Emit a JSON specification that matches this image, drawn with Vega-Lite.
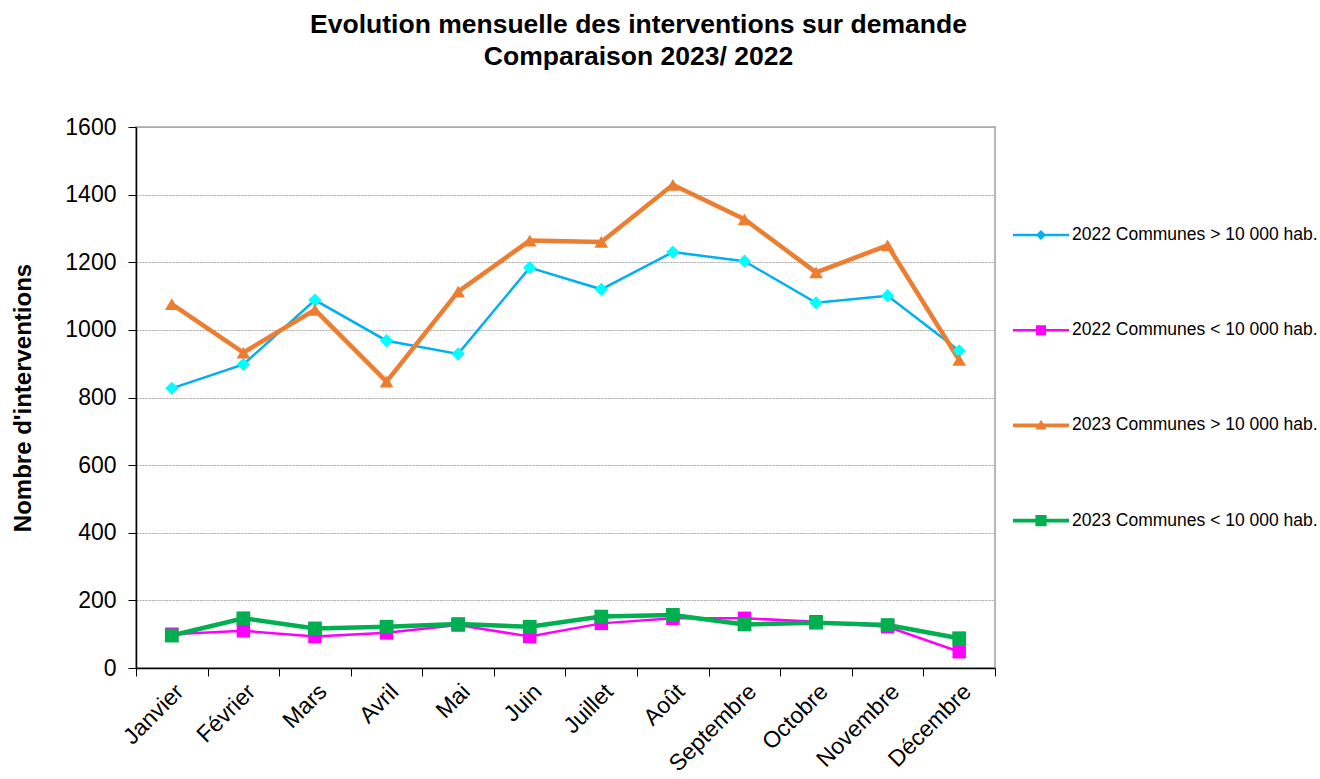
{
  "$schema": "https://vega.github.io/schema/vega-lite/v6.json",
  "autosize": {"type": "none"},
  "width": 859,
  "height": 541,
  "padding": {"left": 136, "top": 127, "right": 325, "bottom": 111},
  "background": "white",
  "config": {
    "font": "Liberation Sans",
    "view": {"stroke": "#b8b8b8", "strokeWidth": 2},
    "legend": {"padding": 0}
  },
  "title": {
    "text": ["Evolution mensuelle des interventions sur demande", "Comparaison 2023/ 2022"],
    "font": "Liberation Sans",
    "fontSize": 26.5,
    "fontWeight": "bold",
    "color": "black",
    "lineHeight": 32,
    "anchor": "middle",
    "frame": "group",
    "dx": 73,
    "offset": 46
  },
  "data": {
    "values": [
      {"mois": "Janvier", "serie": "2022 Communes > 10 000 hab.", "valeur": 827},
      {"mois": "Février", "serie": "2022 Communes > 10 000 hab.", "valeur": 898},
      {"mois": "Mars", "serie": "2022 Communes > 10 000 hab.", "valeur": 1088},
      {"mois": "Avril", "serie": "2022 Communes > 10 000 hab.", "valeur": 968},
      {"mois": "Mai", "serie": "2022 Communes > 10 000 hab.", "valeur": 929},
      {"mois": "Juin", "serie": "2022 Communes > 10 000 hab.", "valeur": 1184},
      {"mois": "Juillet", "serie": "2022 Communes > 10 000 hab.", "valeur": 1120},
      {"mois": "Août", "serie": "2022 Communes > 10 000 hab.", "valeur": 1230},
      {"mois": "Septembre", "serie": "2022 Communes > 10 000 hab.", "valeur": 1203},
      {"mois": "Octobre", "serie": "2022 Communes > 10 000 hab.", "valeur": 1080},
      {"mois": "Novembre", "serie": "2022 Communes > 10 000 hab.", "valeur": 1101},
      {"mois": "Décembre", "serie": "2022 Communes > 10 000 hab.", "valeur": 938},
      {"mois": "Janvier", "serie": "2022 Communes < 10 000 hab.", "valeur": 100},
      {"mois": "Février", "serie": "2022 Communes < 10 000 hab.", "valeur": 110},
      {"mois": "Mars", "serie": "2022 Communes < 10 000 hab.", "valeur": 93},
      {"mois": "Avril", "serie": "2022 Communes < 10 000 hab.", "valeur": 104},
      {"mois": "Mai", "serie": "2022 Communes < 10 000 hab.", "valeur": 127},
      {"mois": "Juin", "serie": "2022 Communes < 10 000 hab.", "valeur": 93},
      {"mois": "Juillet", "serie": "2022 Communes < 10 000 hab.", "valeur": 132},
      {"mois": "Août", "serie": "2022 Communes < 10 000 hab.", "valeur": 147},
      {"mois": "Septembre", "serie": "2022 Communes < 10 000 hab.", "valeur": 147},
      {"mois": "Octobre", "serie": "2022 Communes < 10 000 hab.", "valeur": 137},
      {"mois": "Novembre", "serie": "2022 Communes < 10 000 hab.", "valeur": 122},
      {"mois": "Décembre", "serie": "2022 Communes < 10 000 hab.", "valeur": 48},
      {"mois": "Janvier", "serie": "2023 Communes > 10 000 hab.", "valeur": 1076},
      {"mois": "Février", "serie": "2023 Communes > 10 000 hab.", "valeur": 933},
      {"mois": "Mars", "serie": "2023 Communes > 10 000 hab.", "valeur": 1059},
      {"mois": "Avril", "serie": "2023 Communes > 10 000 hab.", "valeur": 847},
      {"mois": "Mai", "serie": "2023 Communes > 10 000 hab.", "valeur": 1113},
      {"mois": "Juin", "serie": "2023 Communes > 10 000 hab.", "valeur": 1264},
      {"mois": "Juillet", "serie": "2023 Communes > 10 000 hab.", "valeur": 1260},
      {"mois": "Août", "serie": "2023 Communes > 10 000 hab.", "valeur": 1429},
      {"mois": "Septembre", "serie": "2023 Communes > 10 000 hab.", "valeur": 1327},
      {"mois": "Octobre", "serie": "2023 Communes > 10 000 hab.", "valeur": 1170},
      {"mois": "Novembre", "serie": "2023 Communes > 10 000 hab.", "valeur": 1250},
      {"mois": "Décembre", "serie": "2023 Communes > 10 000 hab.", "valeur": 911},
      {"mois": "Janvier", "serie": "2023 Communes < 10 000 hab.", "valeur": 96},
      {"mois": "Février", "serie": "2023 Communes < 10 000 hab.", "valeur": 147},
      {"mois": "Mars", "serie": "2023 Communes < 10 000 hab.", "valeur": 117},
      {"mois": "Avril", "serie": "2023 Communes < 10 000 hab.", "valeur": 122},
      {"mois": "Mai", "serie": "2023 Communes < 10 000 hab.", "valeur": 130},
      {"mois": "Juin", "serie": "2023 Communes < 10 000 hab.", "valeur": 122},
      {"mois": "Juillet", "serie": "2023 Communes < 10 000 hab.", "valeur": 152},
      {"mois": "Août", "serie": "2023 Communes < 10 000 hab.", "valeur": 157},
      {"mois": "Septembre", "serie": "2023 Communes < 10 000 hab.", "valeur": 129},
      {"mois": "Octobre", "serie": "2023 Communes < 10 000 hab.", "valeur": 134},
      {"mois": "Novembre", "serie": "2023 Communes < 10 000 hab.", "valeur": 127},
      {"mois": "Décembre", "serie": "2023 Communes < 10 000 hab.", "valeur": 88}
    ]
  },
  "encoding": {
    "x": {
      "field": "mois",
      "type": "nominal",
      "sort": ["Janvier", "Février", "Mars", "Avril", "Mai", "Juin", "Juillet", "Août", "Septembre", "Octobre", "Novembre", "Décembre"],
      "scale": {"paddingInner": 0, "paddingOuter": 0},
      "axis": {
        "title": null,
        "labelAngle": -45,
        "labelFontSize": 23,
        "labelColor": "black",
        "labelFont": "Liberation Sans",
        "domainColor": "black",
        "domainWidth": 1.5,
        "tickColor": "black",
        "tickSize": 8,
        "tickBand": "extent",
        "labelPadding": 4,
        "grid": false
      }
    },
    "y": {
      "field": "valeur",
      "type": "quantitative",
      "scale": {"domain": [0, 1600], "nice": false},
      "axis": {
        "title": "Nombre d'interventions",
        "titleFontSize": 24,
        "titleFont": "Liberation Sans",
        "titleFontWeight": "bold",
        "titleColor": "black",
        "titlePadding": 29,
        "values": [0, 200, 400, 600, 800, 1000, 1200, 1400, 1600],
        "format": "d",
        "labelFontSize": 23,
        "labelColor": "black",
        "labelFont": "Liberation Sans",
        "labelPadding": 12,
        "domainColor": "black",
        "domainWidth": 1.5,
        "tickColor": "black",
        "tickSize": 8,
        "gridColor": "#a8a8a8",
        "gridDash": [2, 1],
        "gridWidth": 1
      }
    }
  },
  "layer": [
    {
      "transform": [{"filter": "indexof(datum.serie, '2022') === 0"}],
      "mark": {"type": "line", "strokeWidth": 2.5},
      "encoding": {
        "color": {
          "field": "serie", "type": "nominal",
          "scale": {
            "domain": ["2022 Communes > 10 000 hab.", "2022 Communes < 10 000 hab.", "2023 Communes > 10 000 hab.", "2023 Communes < 10 000 hab."],
            "range": ["#00B0F0", "#FF00FF", "#ED7D31", "#00B050"]
          },
          "legend": null
        }
      }
    },
    {
      "transform": [{"filter": "indexof(datum.serie, '2023') === 0"}],
      "mark": {"type": "line", "strokeWidth": 4.5},
      "encoding": {
        "color": {
          "field": "serie", "type": "nominal",
          "scale": {
            "domain": ["2022 Communes > 10 000 hab.", "2022 Communes < 10 000 hab.", "2023 Communes > 10 000 hab.", "2023 Communes < 10 000 hab."],
            "range": ["#00B0F0", "#FF00FF", "#ED7D31", "#00B050"]
          },
          "legend": null
        }
      }
    },
    {
      "mark": {"type": "point", "filled": true, "opacity": 1},
      "encoding": {
        "color": {
          "field": "serie", "type": "nominal",
          "scale": {
            "domain": ["2022 Communes > 10 000 hab.", "2022 Communes < 10 000 hab.", "2023 Communes > 10 000 hab.", "2023 Communes < 10 000 hab."],
            "range": ["#00FFFF", "#FF00FF", "#ED7D31", "#00B050"]
          },
          "legend": null
        },
        "shape": {
          "field": "serie", "type": "nominal",
          "scale": {
            "domain": ["2022 Communes > 10 000 hab.", "2022 Communes < 10 000 hab.", "2023 Communes > 10 000 hab.", "2023 Communes < 10 000 hab."],
            "range": ["diamond", "square", "triangle-up", "square"]
          },
          "legend": null
        },
        "size": {
          "field": "serie", "type": "nominal",
          "scale": {
            "domain": ["2022 Communes > 10 000 hab.", "2022 Communes < 10 000 hab.", "2023 Communes > 10 000 hab.", "2023 Communes < 10 000 hab."],
            "range": [175, 190, 340, 260]
          },
          "legend": null
        }
      }
    },
    {
      "mark": {"type": "point", "filled": true, "opacity": 0},
      "encoding": {
        "color": {
          "field": "serie", "type": "nominal",
          "scale": {
            "domain": ["2022 Communes > 10 000 hab.", "2022 Communes < 10 000 hab.", "2023 Communes > 10 000 hab.", "2023 Communes < 10 000 hab."],
            "range": ["#00B0F0", "#FF00FF", "#ED7D31", "#00B050"]
          },
          "legend": {
            "title": null,
            "orient": "none",
            "legendX": 877,
            "legendY": 80,
            "symbolSize": 3136,
            "symbolOpacity": 1,
            "symbolStrokeWidth": 0,
            "labelFontSize": 17.5,
            "labelFont": "Liberation Sans",
            "labelColor": "black",
            "labelOffset": 3,
            "labelLimit": 400,
            "rowPadding": 58.2
          }
        },
        "shape": {
          "field": "serie", "type": "nominal",
          "scale": {
            "domain": ["2022 Communes > 10 000 hab.", "2022 Communes < 10 000 hab.", "2023 Communes > 10 000 hab.", "2023 Communes < 10 000 hab."],
            "range": [
              "M-1,-0.045H1V0.045H-1Z M0,-0.18L0.18,0L0,0.18L-0.18,0Z",
              "M-1,-0.045H1V0.045H-1Z M-0.18,-0.18H0.18V0.18H-0.18Z",
              "M-1,-0.07H1V0.07H-1Z M0,-0.2L0.2,0.15H-0.2Z",
              "M-1,-0.07H1V0.07H-1Z M-0.2,-0.2H0.2V0.2H-0.2Z"
            ]
          },
          "legend": {
            "title": null,
            "orient": "none",
            "legendX": 877,
            "legendY": 80,
            "symbolSize": 3136,
            "symbolOpacity": 1,
            "symbolStrokeWidth": 0,
            "labelFontSize": 17.5,
            "labelFont": "Liberation Sans",
            "labelColor": "black",
            "labelOffset": 3,
            "labelLimit": 400,
            "rowPadding": 58.2
          }
        }
      }
    }
  ],
  "resolve": {"scale": {"color": "independent", "shape": "independent", "size": "independent"}}
}
